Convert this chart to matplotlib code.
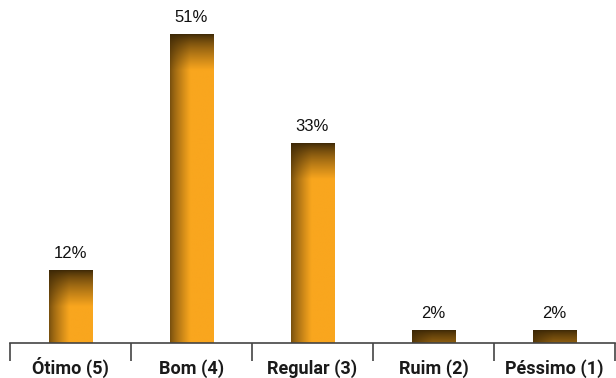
import numpy as np
import matplotlib
matplotlib.use("Agg")
import matplotlib.pyplot as plt
from matplotlib.colors import to_rgb
from matplotlib.transforms import blended_transform_factory

categories = ["Ótimo (5)", "Bom (4)", "Regular (3)", "Ruim (2)", "Péssimo (1)"]
values = [12, 51, 33, 2, 2]

W, H = 616, 378
fig = plt.figure(figsize=(W / 100, H / 100), dpi=100)
ax = fig.add_axes([10 / W, 35 / H, 605 / W, 343 / H])
ymax = 343 / 6.05
ax.set_xlim(-0.5, len(categories) - 0.5)
ax.set_ylim(0, ymax)

px_x = 605 / len(categories)
px_y = 343 / ymax

dark = np.array(to_rgb("#3a2606"))
orange = np.array(to_rgb("#f9a61e"))
bw = 0.36

x = np.arange(len(categories))
for xi, v in zip(x, values):
    hpx = max(int(v * px_y), 2)
    wpx = int(bw * px_x)
    yy = np.arange(hpx)[:, None] + 0.5
    xx = np.arange(wpx)[None, :] + 0.5
    ft = np.clip(yy / 36.0, 0, 1) ** 0.75
    fl = 0.3 + 0.7 * np.clip(xx / 20.0, 0, 1) ** 0.8
    f = (ft * fl)[..., None]
    img = dark * (1 - f) + orange * f
    ax.imshow(img, extent=[xi - bw / 2, xi + bw / 2, 0, v], aspect="auto",
              interpolation="bilinear", zorder=2)
    ax.text(xi, v + 1.6, f"{v}%", ha="center", va="bottom", fontsize=12,
            family="Liberation Sans", color="#111111")

ax.set_xlim(-0.5, len(categories) - 0.5)
ax.set_ylim(0, ymax)

for s in ["top", "right", "left"]:
    ax.spines[s].set_visible(False)
ax.spines["bottom"].set_color("#444444")
ax.spines["bottom"].set_linewidth(1.2)
ax.set_yticks([])
ax.set_xticks(x)
ax.set_xticklabels([])
ax.tick_params(axis="x", which="major", length=0)
ax.set_xticks(np.arange(-0.5, len(categories)), minor=True)
ax.tick_params(axis="x", which="minor", length=13, width=1.2, color="#444444")

trans = blended_transform_factory(ax.transData, fig.transFigure)
for xi, c in zip(x, categories):
    ax.text(xi, 1 - 374 / H, c, transform=trans, ha="center", va="baseline",
            fontsize=13, fontweight="bold",
            family=["Roboto", "DejaVu Sans"],
            color="#1a1a1a")

fig.savefig("out.png", dpi=100)
